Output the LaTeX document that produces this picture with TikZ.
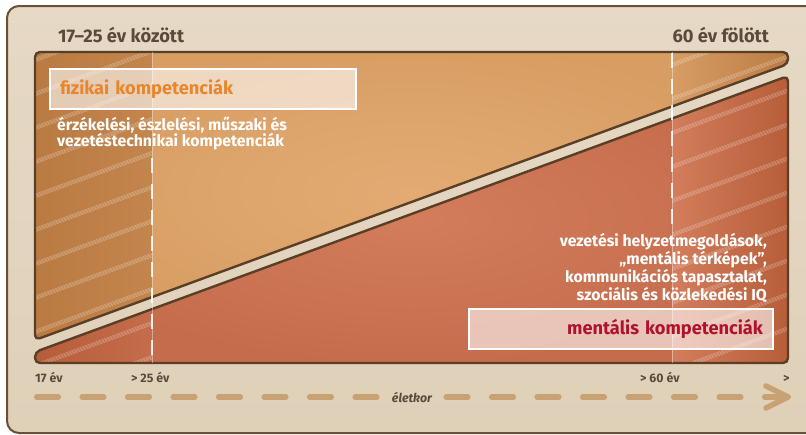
\documentclass[tikz,border=0pt]{standalone}
\usepackage{fontspec}
\setmainfont{Fira Sans}
\usepackage{tikz}
\usetikzlibrary{calc}

\definecolor{frtop}{HTML}{E6D9C5}
\definecolor{frmid}{HTML}{EEE5D7}
\definecolor{frbot}{HTML}{DFD0B8}
\definecolor{frbrd}{HTML}{6A4F37}
\definecolor{brd}{HTML}{5A3E26}
\definecolor{txtdark}{HTML}{5B4A3C}
\definecolor{fizlight}{HTML}{E3AB73}
\definecolor{fizbase}{HTML}{D79D63}
\definecolor{fizmid}{HTML}{CB9058}
\definecolor{fizdark}{HTML}{BA7B43}
\definecolor{mentlight}{HTML}{D37D5C}
\definecolor{mentbase}{HTML}{C56C4C}
\definecolor{mentdark}{HTML}{B05630}
\definecolor{fizorange}{HTML}{E8862C}
\definecolor{mentred}{HTML}{B0122B}
\definecolor{axis}{HTML}{C9A273}

% the two age blocks
\newcommand{\fizpath}{(35,52) -- (788,52) -- (788,64) -- (35,340) -- cycle}
\newcommand{\mentpath}{(35,352) -- (788,76) -- (788,363) -- (35,363) -- cycle}

\begin{document}
\begin{tikzpicture}[x=1pt,y=-1pt,
  head/.style={font=\bfseries\fontsize{18.3}{21}\selectfont,text=txtdark,inner sep=0pt},
  kbox/.style={draw=white,line width=2pt,fill=white,fill opacity=0.6,text opacity=1,
    font=\bfseries\fontsize{18.2}{21}\selectfont,minimum height=40pt,inner xsep=10pt},
  note/.style={font=\bfseries\fontsize{15.8}{16}\selectfont,text=white,inner sep=0pt},
  tick/.style={font=\bfseries\fontsize{12.3}{14}\selectfont,text=txtdark,inner sep=0pt},
  axisdash/.style={axis,line width=5.5pt,line cap=round,line join=round},
  glassline/.style={white,opacity=0.85,line width=2.4pt,dash pattern=on 15pt off 11pt},
  hatch/.style={white,opacity=0.4,line width=0.35pt}]

\useasboundingbox (0,0) rectangle (806,434);
\clip (0,0) rectangle (806,434);

% frame
\shade[top color=frtop,middle color=frmid,bottom color=frbot,rounded corners=12] (7,6) rectangle (830,433);
\draw[frbrd,line width=2pt,rounded corners=12] (7,6) rectangle (830,433);

% upper block
\begin{scope}
\clip[rounded corners=5] \fizpath;
\shade[inner color=fizlight,outer color=fizbase] (35,40) rectangle (790,345);
\shade[left color=fizdark,middle color=fizmid,right color=fizdark!70!fizbase] (35,40) rectangle (152,345);
\shade[left color=fizmid!50!fizlight,right color=fizdark] (672,40) rectangle (790,345);
\end{scope}

% lower block
\begin{scope}
\clip[rounded corners=5] \mentpath;
\shade[inner color=mentlight,outer color=mentbase] (35,70) rectangle (790,365);
\shade[left color=mentdark!70!mentbase,right color=mentbase] (35,70) rectangle (152,365);
\shade[left color=mentlight,middle color=mentdark,right color=mentdark!70!mentbase] (672,70) rectangle (790,365);
\end{scope}

% hatching in the glass strips
\begin{scope}
\clip (35,40) rectangle (152,370) (672,40) rectangle (790,370);
\clip[rounded corners=5] \fizpath \mentpath;
\foreach \k in {-1,...,18}
  \foreach \d in {0,1.2,2.4,3.6}
    \draw[hatch] (30,{\k*34+60+\d}) -- ++(770,-281.8);
\end{scope}

\draw[brd,line width=2.4pt,rounded corners=5] \fizpath;
\draw[brd,line width=2.4pt,rounded corners=5] \mentpath;

% strip edges
\draw[white,opacity=0.4,line width=0.8pt] (152,52) -- (152,363);
\draw[white,opacity=0.4,line width=0.8pt] (672,52) -- (672,363);
\draw[glassline] (152,158) -- (152,362);
\draw[glassline] (672,53) -- (672,225);

% labels
\node[head,anchor=base west] (young) at (58,42) {17–25 év között};
\node[head,anchor=base east] (old) at (769,42) {60 év fölött};

\node[kbox,anchor=north west,text width=286pt,align=left,text=fizorange] (fizbox) at (49,68) {fizikai kompetenciák};
\node[note,anchor=base west,align=left] (fiznote) at (57,146) {érzékelési, észlelési, műszaki és\\vezetéstechnikai kompetenciák};

\node[note,anchor=base east,align=right] (mentnote) at (767,300) {vezetési helyzetmegoldások,\\„mentális térképek”,\\kommunikációs tapasztalat,\\szociális és közlekedési IQ};
\node[kbox,anchor=north east,text width=284pt,align=right,text=mentred] (mentbox) at (774,308) {mentális kompetenciák};

% age axis
\node[tick,anchor=base west] (t17) at (35,382) {17 év};
\node[tick,anchor=base west] (t25) at (131,382) {> 25 év};
\node[tick,anchor=base west] (t60) at (640,382) {> 60 év};
\node[tick,anchor=base west] (tend) at (783,382) {>};

\coordinate (axisstart) at (34,397);
\coordinate (axisend) at (788,397);
\foreach \i in {0,...,15}{
  \ifnum\i=8 \else
    \draw[axisdash] ($(axisstart)+(\i*45.5+2.7,0)$) -- ++(21.6,0);
  \fi
};
\node[font=\bfseries\itshape\fontsize{12.3}{14}\selectfont,text=txtdark,inner sep=0pt] (age) at (412,397) {életkor};
\draw[axisdash] ($(axisstart)+(730.7,0)$) -- (axisend);
\draw[axisdash] ($(axisend)+(-22,-11)$) -- (axisend) -- ($(axisend)+(-22,11)$);

\end{tikzpicture}
\end{document}
